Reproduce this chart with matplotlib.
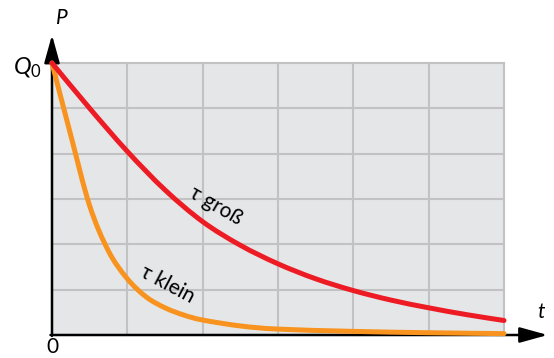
import matplotlib
matplotlib.use("Agg")
import matplotlib.pyplot as plt
from matplotlib.path import Path
from matplotlib.patches import PathPatch
import numpy as np

# Discharge curves P(t) for a large and a small time constant (grid units)
t_gross = [0, 0.5, 1.0, 1.5, 2.0, 2.5, 3.0, 3.5, 4.0, 4.5, 5.0, 5.5, 6.0]
p_gross = [6.0, 5.0, 4.05, 3.2, 2.5, 1.98, 1.57, 1.24, 0.98, 0.77, 0.6, 0.45, 0.32]

t_klein = [0, 0.25, 0.5, 0.75, 1.0, 1.25, 1.5, 1.75, 2.0, 2.5, 3.0, 4.0, 5.0, 6.0]
p_klein = [6.0, 4.4, 2.85, 1.85, 1.24, 0.84, 0.6, 0.44, 0.33, 0.2, 0.13, 0.08, 0.05, 0.03]

n_cols = 6
n_rows = 6

label_gross = "τ groß"
label_klein = "τ klein"

FONT = ["Lato", "DejaVu Sans"]
plt.rcParams["mathtext.fontset"] = "custom"
plt.rcParams["mathtext.it"] = "Lato:italic"
plt.rcParams["mathtext.rm"] = "Lato"

W, H = 554, 358
fig = plt.figure(figsize=(W / 100, H / 100), dpi=100)
x0, x1, y0, y1 = 52, 504, 335, 63
ax = fig.add_axes([x0 / W, 1 - y0 / H, (x1 - x0) / W, (y0 - y1) / H])
ax.set_xlim(0, n_cols)
ax.set_ylim(0, n_rows)
ax.set_facecolor("#e5e6e8")
for s in ax.spines.values():
    s.set_visible(False)
ax.set_xticks([])
ax.set_yticks([])

grid_c = "#c2c2c4"
for i in range(1, n_cols + 1):
    ax.plot([i, i], [0, n_rows], color=grid_c, lw=1.5, zorder=1, clip_on=False)
for j in range(1, n_rows + 1):
    ax.plot([0, n_cols], [j, j], color=grid_c, lw=1.5, zorder=1, clip_on=False)


def smooth_path(xs, ys):
    """Catmull-Rom curve through the given points as cubic Bezier segments."""
    pts = np.column_stack([xs, ys]).astype(float)
    verts = [pts[0]]
    codes = [Path.MOVETO]
    n = len(pts)
    for i in range(n - 1):
        p0 = pts[i - 1] if i > 0 else pts[i]
        p1 = pts[i]
        p2 = pts[i + 1]
        p3 = pts[i + 2] if i + 2 < n else pts[i + 1]
        c1 = p1 + (p2 - p0) / 6.0
        c2 = p2 - (p3 - p1) / 6.0
        verts += [c1, c2, p2]
        codes += [Path.CURVE4] * 3
    return Path(verts, codes)


# Axes with arrow heads
arrow = "-|>,head_length=1.7,head_width=0.47"
ax.annotate("", xy=(0, 6.62), xytext=(0, -0.02), xycoords="data",
            arrowprops=dict(arrowstyle=arrow, color="black", lw=1.8,
                            shrinkA=0, shrinkB=0),
            annotation_clip=False, zorder=4)
ax.annotate("", xy=(6.58, 0), xytext=(-0.02, 0), xycoords="data",
            arrowprops=dict(arrowstyle=arrow, color="black", lw=1.8,
                            shrinkA=0, shrinkB=0),
            annotation_clip=False, zorder=4)

ax.add_patch(PathPatch(smooth_path(t_klein, p_klein), facecolor="none",
                       edgecolor="#f7931e", lw=3.6, capstyle="round",
                       clip_on=False, zorder=5))
ax.add_patch(PathPatch(smooth_path(t_gross, p_gross), facecolor="none",
                       edgecolor="#ed1c24", lw=3.6, capstyle="round",
                       clip_on=False, zorder=6))

ax.text(2.18, 2.86, label_gross, rotation=-30, ha="center", va="center",
        fontsize=15, family=FONT, color="black", zorder=7,
        rotation_mode="anchor")
ax.text(1.53, 1.12, label_klein, rotation=-28, ha="center", va="center",
        fontsize=15, family=FONT, color="black", zorder=7,
        rotation_mode="anchor")

# Axis labels
fig.text(62 / W, 1 - 18 / H, "P", ha="center", va="center", fontsize=15,
         family=FONT, style="italic")
fig.text(541 / W, 1 - 312 / H, "t", ha="center", va="center", fontsize=15,
         family=FONT, style="italic")
fig.text(27 / W, 1 - 68 / H, r"$Q_{\mathrm{0}}$", ha="center", va="center",
         fontsize=17, family=FONT)
fig.text(52 / W, 1 - 347 / H, "0", ha="center", va="center", fontsize=15,
         family=FONT)

fig.savefig("out.png", dpi=100)
